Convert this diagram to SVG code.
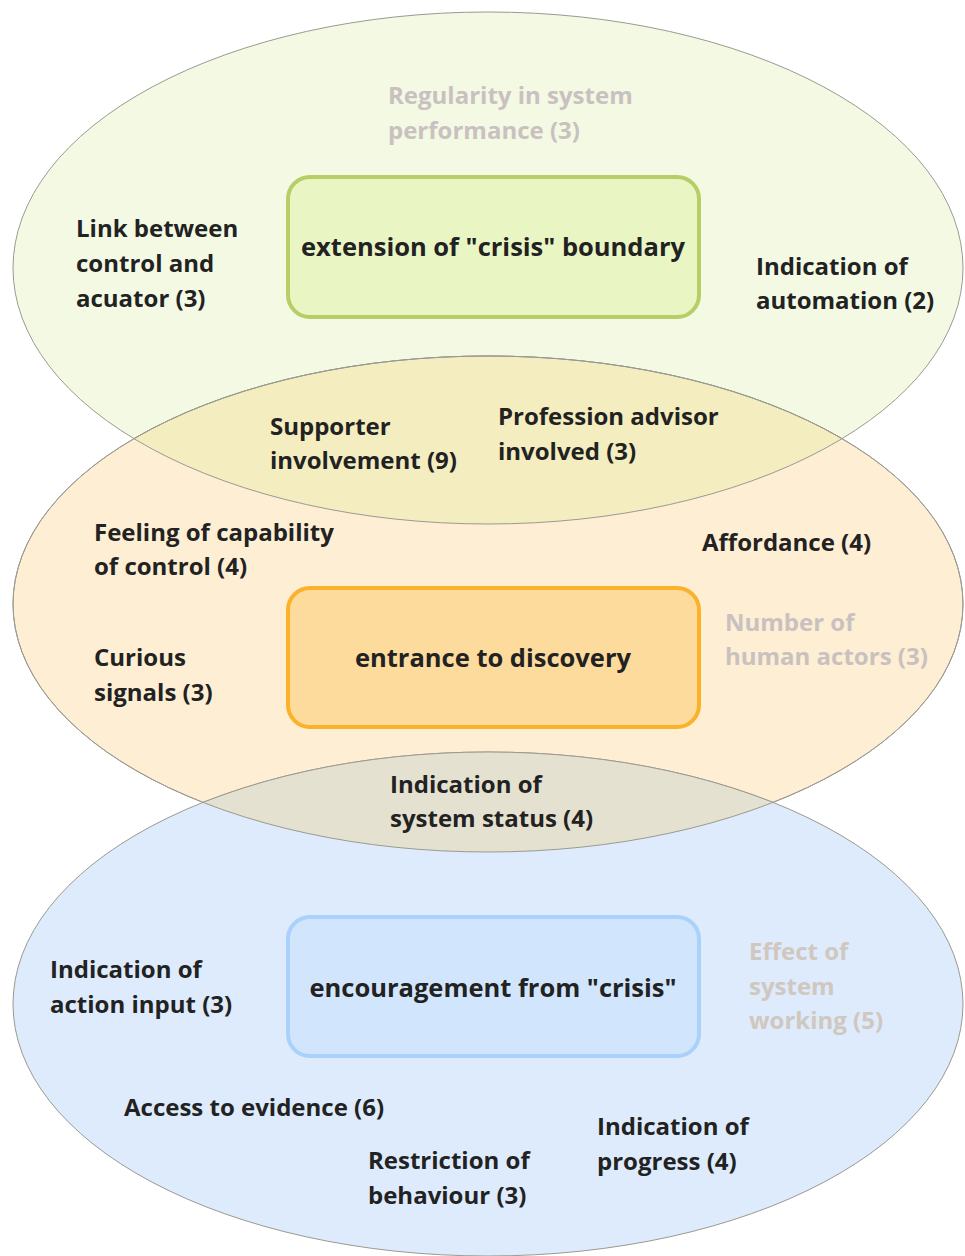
<svg xmlns="http://www.w3.org/2000/svg" width="965" height="1256" viewBox="0 0 965 1256">
  <style>
    .zone { stroke: #9a9a90; stroke-width: 1; }
    .lbl { font-family: "Open Sans", "Noto Sans", "DejaVu Sans", sans-serif; font-weight: 700; font-size: 24px; fill: #222222; }
    .dim { fill: #C9C1C0; }
    .dim2 { fill: #D0C7BE; }
    .core { font-family: "Open Sans", "Noto Sans", "DejaVu Sans", sans-serif; font-weight: 700; font-size: 25.5px; fill: #222222; text-anchor: middle; }
    .box { stroke-width: 4; }
  </style>
  <defs>
    <clipPath id="clipTop"><ellipse cx="488" cy="268" rx="475" ry="256"/></clipPath>
    <clipPath id="clipMid"><ellipse cx="488" cy="604" rx="475" ry="248"/></clipPath>
  </defs>
  <rect width="965" height="1256" fill="#ffffff"/>

  <!-- three overlapping zones -->
  <g id="zones">
    <ellipse id="zone-top" class="zone" cx="488" cy="268" rx="475" ry="256" fill="#F3F9E3"/>
    <ellipse id="zone-mid" class="zone" cx="488" cy="604" rx="475" ry="248" fill="#FDEED4"/>
    <ellipse id="zone-bottom" class="zone" cx="488" cy="1004" rx="475" ry="252" fill="#DDEBFC"/>
    <!-- lens overlaps -->
    <ellipse cx="488" cy="604" rx="475" ry="248" fill="#F3EDBF" clip-path="url(#clipTop)" class="zone"/>
    <ellipse cx="488" cy="1004" rx="475" ry="252" fill="#E4E1D0" clip-path="url(#clipMid)" class="zone"/>
    <ellipse cx="488" cy="268" rx="475" ry="256" fill="none" class="zone" clip-path="url(#clipMid)"/>
    <ellipse cx="488" cy="604" rx="475" ry="248" fill="none" class="zone"/>
  </g>

  <g id="connectors"/>

  <!-- core boxes -->
  <g id="core-extension">
    <rect class="box" x="288" y="177" width="411" height="140" rx="22" fill="#EAF5C4" stroke="#B5CE66"/>
    <text class="core" x="493" y="256">extension of "crisis" boundary</text>
  </g>
  <g id="core-entrance">
    <rect class="box" x="288" y="588" width="411" height="139" rx="22" fill="#FDDB9C" stroke="#FBB22A"/>
    <text class="core" x="493" y="667">entrance to discovery</text>
  </g>
  <g id="core-encouragement">
    <rect class="box" x="288" y="917" width="411" height="139" rx="22" fill="#D1E6FC" stroke="#A9D1FB"/>
    <text class="core" x="493" y="997">encouragement from "crisis"</text>
  </g>

  <!-- factor labels -->
  <g id="f-regularity"><text class="lbl dim" x="388" y="104">Regularity in system</text><text class="lbl dim" x="388" y="139">performance (3)</text></g>
  <g id="f-link"><text class="lbl" x="76" y="237">Link between</text><text class="lbl" x="76" y="272">control and</text><text class="lbl" x="76" y="307">acuator (3)</text></g>
  <g id="f-automation"><text class="lbl" x="756" y="275">Indication of</text><text class="lbl" x="756" y="309">automation (2)</text></g>
  <g id="f-supporter"><text class="lbl" x="270" y="435">Supporter</text><text class="lbl" x="270" y="469">involvement (9)</text></g>
  <g id="f-advisor"><text class="lbl" x="498" y="425">Profession advisor</text><text class="lbl" x="498" y="460">involved (3)</text></g>
  <g id="f-feeling"><text class="lbl" x="94" y="541">Feeling of capability</text><text class="lbl" x="94" y="575">of control (4)</text></g>
  <g id="f-affordance"><text class="lbl" x="702" y="551">Affordance (4)</text></g>
  <g id="f-actors"><text class="lbl dim" x="725" y="631">Number of</text><text class="lbl dim" x="725" y="665">human actors (3)</text></g>
  <g id="f-curious"><text class="lbl" x="94" y="666">Curious</text><text class="lbl" x="94" y="701">signals (3)</text></g>
  <g id="f-status"><text class="lbl" x="390" y="793">Indication of</text><text class="lbl" x="390" y="827">system status (4)</text></g>
  <g id="f-action"><text class="lbl" x="50" y="978">Indication of</text><text class="lbl" x="50" y="1013">action input (3)</text></g>
  <g id="f-effect"><text class="lbl dim2" x="749" y="960">Effect of</text><text class="lbl dim2" x="749" y="995">system</text><text class="lbl dim2" x="749" y="1029">working (5)</text></g>
  <g id="f-evidence"><text class="lbl" x="124" y="1116">Access to evidence (6)</text></g>
  <g id="f-progress"><text class="lbl" x="597" y="1135">Indication of</text><text class="lbl" x="597" y="1170">progress (4)</text></g>
  <g id="f-restriction"><text class="lbl" x="368" y="1169">Restriction of</text><text class="lbl" x="368" y="1204">behaviour (3)</text></g>
</svg>
